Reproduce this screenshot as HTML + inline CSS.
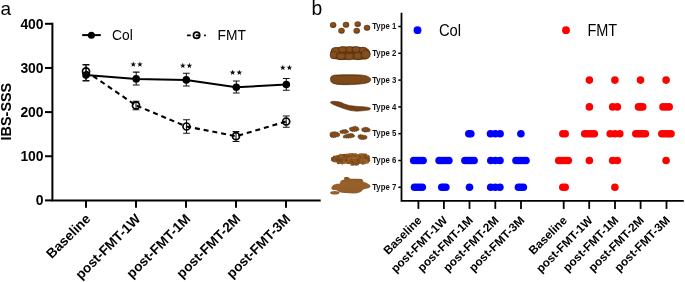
<!DOCTYPE html>
<html><head><meta charset="utf-8"><style>
html,body{margin:0;padding:0;background:#fff;width:685px;height:282px;overflow:hidden}
svg{display:block;will-change:transform;filter:blur(0.3px)}
text{font-family:"Liberation Sans", sans-serif}
</style></head><body>
<svg width="685" height="282" viewBox="0 0 685 282" font-family='"Liberation Sans", sans-serif' fill="#000">
<defs>
<radialGradient id="g1" cx="0.45" cy="0.4" r="0.6"><stop offset="0" stop-color="#8c5420"/><stop offset="0.65" stop-color="#7c4719"/><stop offset="1" stop-color="#52300f"/></radialGradient>
<radialGradient id="g2" cx="0.5" cy="0.45" r="0.6"><stop offset="0" stop-color="#8a5220"/><stop offset="0.7" stop-color="#7d4a1b"/><stop offset="1" stop-color="#5a3210"/></radialGradient>
<linearGradient id="g3" x1="0" y1="0" x2="0" y2="1"><stop offset="0" stop-color="#643810"/><stop offset="0.2" stop-color="#804a1b"/><stop offset="0.8" stop-color="#7e481a"/><stop offset="1" stop-color="#603510"/></linearGradient>
<linearGradient id="g7" x1="0" y1="0" x2="0" y2="1"><stop offset="0" stop-color="#86541f"/><stop offset="0.3" stop-color="#98612b"/><stop offset="1" stop-color="#925e2a"/></linearGradient>
</defs>
<ellipse cx="333.1" cy="25" rx="3.25" ry="2.95" fill="url(#g1)"/>
<ellipse cx="341.5" cy="30.8" rx="3.25" ry="2.95" fill="url(#g1)"/>
<ellipse cx="346" cy="24.8" rx="3.25" ry="2.95" fill="url(#g1)"/>
<ellipse cx="357.7" cy="24.1" rx="3.25" ry="2.95" fill="url(#g1)"/>
<ellipse cx="356.7" cy="30.8" rx="3.25" ry="2.95" fill="url(#g1)"/>
<ellipse cx="367" cy="27.7" rx="3.25" ry="2.95" fill="url(#g1)"/>
<path d="M330.5 53.5 C330 49 334 47.2 338 47.3 C341 46.3 345 46.3 349 46.8 C353 46.2 358 46.3 362 47.2 C366 47.2 369.5 49 370.3 52.5 C370.8 56 369 58.8 365 59.4 C360 60.2 355 59.8 351 59.6 C346 60.3 341 60.2 337 59.5 C333 59.2 330.8 57 330.5 53.5 Z" fill="#6a3b12"/>
<ellipse cx="335.5" cy="50.8" rx="4.3" ry="3.3" fill="url(#g2)" stroke="#4a280b" stroke-width="0.45"/>
<ellipse cx="342.6" cy="49.6" rx="4.1" ry="3.0" fill="url(#g2)" stroke="#4a280b" stroke-width="0.45"/>
<ellipse cx="349.6" cy="49.4" rx="3.9" ry="2.9" fill="url(#g2)" stroke="#4a280b" stroke-width="0.45"/>
<ellipse cx="356.2" cy="49.6" rx="4.1" ry="3.0" fill="url(#g2)" stroke="#4a280b" stroke-width="0.45"/>
<ellipse cx="363.0" cy="50.2" rx="3.9" ry="3.1" fill="url(#g2)" stroke="#4a280b" stroke-width="0.45"/>
<ellipse cx="333.8" cy="55.0" rx="3.8" ry="3.9" fill="url(#g2)" stroke="#4a280b" stroke-width="0.45"/>
<ellipse cx="341.0" cy="56.3" rx="4.6" ry="3.4" fill="url(#g2)" stroke="#4a280b" stroke-width="0.45"/>
<ellipse cx="349.4" cy="56.5" rx="4.6" ry="3.3" fill="url(#g2)" stroke="#4a280b" stroke-width="0.45"/>
<ellipse cx="357.8" cy="56.0" rx="4.3" ry="3.7" fill="url(#g2)" stroke="#4a280b" stroke-width="0.45"/>
<ellipse cx="365.6" cy="54.6" rx="4.6" ry="4.5" fill="url(#g2)" stroke="#4a280b" stroke-width="0.45"/>
<path d="M330.6 77.6 C331 75.8 333 75.2 336 75 C343 74.6 352 74.6 360 74.9 C366 75.2 370 76.8 370.8 79.2 C371 81.5 368.5 82.8 364 83.6 C356 84.8 346 85 338 84.4 C334 84 331.5 83 330.8 81.2 C330.3 80 330.3 78.8 330.6 77.6 Z" fill="url(#g3)" stroke="#4a280b" stroke-width="0.6"/>
<path d="M330.2 102.2 C331.5 101.3 334 101.2 337 101.5 C340 101.8 342 102.7 344 103.8 C347 105 350 105.7 353.7 106 C357 106.4 360 106.6 363.3 106.7 C366 106.9 368.5 107.3 370 108 C371 109 370.2 109.8 368.5 110.1 C364 110.7 360 111.2 356.9 111.2 C353.5 111.1 351 110.7 349.2 110.2 C346 109.4 343 108.5 340.8 107.6 C338 106.6 336 105.8 334.4 105.1 C332.5 104.2 330.8 103.3 330.2 102.2 Z" fill="#74401a" stroke="#522d0c" stroke-width="0.5"/>
<polygon points="330.2,133 331.9,132 335.1,131.7 337.6,132.3 339.6,133.6 339.6,135.9 337.6,136.8 334.4,137.5 331.2,137.5 329.9,135.6" fill="#804a1c" stroke="#55300e" stroke-width="0.7" stroke-linejoin="miter" stroke-dasharray="1.2 0.6"/>
<polygon points="339.9,131.1 342.1,130.1 344.7,129.5 346.6,129.8 348.6,131.4 347.9,133 345.3,133.6 342.1,133.6 340.2,133" fill="#804a1c" stroke="#55300e" stroke-width="0.7" stroke-linejoin="miter" stroke-dasharray="1.2 0.6"/>
<polygon points="343.1,136.2 344.7,134.9 347.3,134.3 349.8,133.6 352.4,133.6 354.3,134.9 354.7,136.5 352.4,137.5 349.2,138.1 346,138.1 343.4,137.8" fill="#804a1c" stroke="#55300e" stroke-width="0.7" stroke-linejoin="miter" stroke-dasharray="1.2 0.6"/>
<polygon points="349.5,127.9 352.4,126.9 355.6,126.2 357.9,127.2 359.2,129.1 358.2,130.7 355,131.4 351.8,131.4 349.8,130.4" fill="#804a1c" stroke="#55300e" stroke-width="0.7" stroke-linejoin="miter" stroke-dasharray="1.2 0.6"/>
<polygon points="358.2,135.2 360.8,134.6 363.3,135.2 365.9,135.6 367.2,136.8 366.5,138.8 364,139.4 360.8,139.4 358.8,138.5 357.9,136.8" fill="#804a1c" stroke="#55300e" stroke-width="0.7" stroke-linejoin="miter" stroke-dasharray="1.2 0.6"/>
<polygon points="361.7,128.8 364,127.5 366.5,127.2 369.1,128.2 370.4,129.8 369.7,131.4 367.2,132 364,132 362,131.1" fill="#804a1c" stroke="#55300e" stroke-width="0.7" stroke-linejoin="miter" stroke-dasharray="1.2 0.6"/>
<polygon points="331.64,157.96 336.20,156.68 340.38,155.64 345.13,154.60 349.87,154.60 354.71,155.40 359.45,155.16 364.84,155.40 367.82,156.92 368.75,158.44 368.38,161.56 365.40,162.36 359.45,162.84 354.71,163.64 350.52,163.40 344.48,162.60 338.52,162.36 333.22,161.32 331.64,160.04" fill="#8d5723" stroke="#8d5723" stroke-width="1.2" stroke-linejoin="round"/>
<circle cx="340.3" cy="155.1" r="1.32" fill="#9c652c"/>
<circle cx="342.4" cy="155.3" r="1.26" fill="#774519"/>
<circle cx="344.6" cy="155.2" r="1.45" fill="#804c1d"/>
<circle cx="346.7" cy="155.0" r="1.56" fill="#8a5422"/>
<circle cx="349.1" cy="154.9" r="1.73" fill="#8a5422"/>
<circle cx="351.0" cy="154.7" r="1.66" fill="#9c652c"/>
<circle cx="352.8" cy="154.8" r="1.73" fill="#8a5422"/>
<circle cx="355.4" cy="154.8" r="1.69" fill="#9c652c"/>
<circle cx="356.8" cy="155.1" r="1.30" fill="#945c26"/>
<circle cx="359.2" cy="155.2" r="1.60" fill="#945c26"/>
<circle cx="361.3" cy="154.9" r="1.91" fill="#9c652c"/>
<circle cx="363.8" cy="154.7" r="1.53" fill="#804c1d"/>
<circle cx="365.7" cy="154.8" r="1.38" fill="#8a5422"/>
<circle cx="334.5" cy="157.2" r="1.75" fill="#774519"/>
<circle cx="336.9" cy="156.9" r="1.79" fill="#9c652c"/>
<circle cx="338.9" cy="157.0" r="1.90" fill="#774519"/>
<circle cx="340.6" cy="156.7" r="1.28" fill="#9c652c"/>
<circle cx="342.5" cy="156.5" r="1.37" fill="#945c26"/>
<circle cx="344.6" cy="156.9" r="1.28" fill="#774519"/>
<circle cx="346.7" cy="156.5" r="1.49" fill="#8a5422"/>
<circle cx="348.8" cy="156.6" r="1.50" fill="#804c1d"/>
<circle cx="351.6" cy="156.9" r="1.58" fill="#8a5422"/>
<circle cx="353.6" cy="157.2" r="1.57" fill="#9c652c"/>
<circle cx="355.3" cy="156.5" r="1.80" fill="#804c1d"/>
<circle cx="357.5" cy="157.0" r="1.61" fill="#945c26"/>
<circle cx="360.0" cy="156.8" r="1.32" fill="#774519"/>
<circle cx="362.0" cy="157.0" r="1.44" fill="#8a5422"/>
<circle cx="364.0" cy="156.6" r="1.49" fill="#945c26"/>
<circle cx="365.8" cy="156.6" r="1.63" fill="#774519"/>
<circle cx="367.9" cy="156.6" r="1.85" fill="#945c26"/>
<circle cx="332.4" cy="158.3" r="1.22" fill="#804c1d"/>
<circle cx="334.6" cy="158.5" r="1.68" fill="#804c1d"/>
<circle cx="336.6" cy="159.0" r="1.99" fill="#804c1d"/>
<circle cx="338.5" cy="158.4" r="1.58" fill="#804c1d"/>
<circle cx="340.7" cy="158.8" r="1.92" fill="#8a5422"/>
<circle cx="343.0" cy="158.8" r="1.84" fill="#8a5422"/>
<circle cx="345.4" cy="158.4" r="1.51" fill="#945c26"/>
<circle cx="347.2" cy="158.4" r="1.83" fill="#804c1d"/>
<circle cx="349.0" cy="159.1" r="1.78" fill="#9c652c"/>
<circle cx="351.3" cy="159.1" r="1.78" fill="#945c26"/>
<circle cx="353.9" cy="158.3" r="1.67" fill="#9c652c"/>
<circle cx="355.8" cy="158.4" r="1.86" fill="#9c652c"/>
<circle cx="357.8" cy="158.6" r="1.64" fill="#945c26"/>
<circle cx="359.4" cy="158.9" r="1.78" fill="#8a5422"/>
<circle cx="361.9" cy="159.0" r="1.55" fill="#945c26"/>
<circle cx="364.2" cy="158.5" r="1.40" fill="#804c1d"/>
<circle cx="366.1" cy="158.9" r="1.46" fill="#774519"/>
<circle cx="368.1" cy="158.4" r="1.93" fill="#804c1d"/>
<circle cx="332.9" cy="160.3" r="1.32" fill="#774519"/>
<circle cx="334.3" cy="160.6" r="1.35" fill="#8a5422"/>
<circle cx="337.0" cy="160.3" r="1.31" fill="#774519"/>
<circle cx="339.1" cy="160.6" r="1.46" fill="#774519"/>
<circle cx="341.0" cy="160.6" r="1.82" fill="#774519"/>
<circle cx="342.7" cy="160.4" r="1.23" fill="#8a5422"/>
<circle cx="345.2" cy="160.6" r="1.81" fill="#8a5422"/>
<circle cx="347.2" cy="160.7" r="1.60" fill="#774519"/>
<circle cx="349.1" cy="160.4" r="1.61" fill="#9c652c"/>
<circle cx="351.5" cy="160.4" r="1.62" fill="#804c1d"/>
<circle cx="353.9" cy="160.9" r="1.36" fill="#9c652c"/>
<circle cx="355.4" cy="160.3" r="1.55" fill="#8a5422"/>
<circle cx="357.9" cy="160.5" r="1.37" fill="#804c1d"/>
<circle cx="360.1" cy="160.9" r="1.32" fill="#804c1d"/>
<circle cx="361.7" cy="160.9" r="1.97" fill="#945c26"/>
<circle cx="364.3" cy="160.3" r="1.91" fill="#945c26"/>
<circle cx="366.6" cy="160.9" r="1.33" fill="#9c652c"/>
<circle cx="368.7" cy="160.5" r="1.54" fill="#804c1d"/>
<circle cx="338.2" cy="162.9" r="1.28" fill="#804c1d"/>
<circle cx="339.8" cy="162.8" r="1.35" fill="#945c26"/>
<circle cx="342.4" cy="162.8" r="1.74" fill="#804c1d"/>
<circle cx="344.1" cy="162.5" r="1.61" fill="#9c652c"/>
<circle cx="346.5" cy="162.2" r="1.25" fill="#945c26"/>
<circle cx="348.4" cy="162.2" r="1.95" fill="#8a5422"/>
<circle cx="350.8" cy="162.2" r="1.88" fill="#8a5422"/>
<circle cx="352.4" cy="162.2" r="1.21" fill="#774519"/>
<circle cx="354.7" cy="162.8" r="1.70" fill="#8a5422"/>
<circle cx="356.8" cy="162.3" r="1.29" fill="#945c26"/>
<circle cx="358.7" cy="162.2" r="1.95" fill="#804c1d"/>
<circle cx="361.0" cy="162.3" r="1.56" fill="#945c26"/>
<circle cx="362.9" cy="162.7" r="2.00" fill="#8a5422"/>
<circle cx="364.8" cy="162.7" r="1.64" fill="#945c26"/>
<circle cx="367.3" cy="162.3" r="1.56" fill="#9c652c"/>
<circle cx="351.6" cy="164.6" r="1.24" fill="#945c26"/>
<circle cx="353.4" cy="164.4" r="1.41" fill="#804c1d"/>
<circle cx="356.1" cy="164.4" r="1.40" fill="#804c1d"/>
<circle cx="357.6" cy="164.1" r="1.47" fill="#8a5422"/>
<path d="M331.4 187.6 C332.2 186 333 185.2 334 184.6 C336 183.8 338 183.6 339.9 183.4 C340.2 182.2 340.5 181.4 340.8 180.8 C342 180 343 179.7 344.2 179.5 C344 178.5 344 177.8 344.2 177.4 C345.5 177 347 177 348.4 177.2 C349.2 177.6 349.8 178.2 350.1 178.7 C354 178.6 358 178.7 362 179.1 C362.8 180 363.2 181.2 363.7 182.1 C365.5 182.6 367 183 368 183.8 C369.3 184.5 370.2 185.2 370.6 185.9 C370.3 186.9 369.7 187.6 368.9 188 C367 188.7 365.2 189 363.7 189.3 C362.6 190.4 361.5 191.5 360.3 192.3 C358 193 355.8 193.5 353.5 193.6 C350.5 193.6 347.8 193.4 345 193.1 C343 192.9 341.3 192.6 339.9 192.3 C338.5 191.6 337.5 190.8 336.5 190.2 C335 190 333.5 189.9 332.3 189.7 C331.5 189.2 331.2 188.4 331.4 187.6 Z" fill="url(#g7)"/>
<ellipse cx="334.8" cy="192.7" rx="4.7" ry="1.75" fill="#925e2a"/>
<text x="0.5" y="14.7" font-size="19" fill="#000">a</text>
<path d="M52.4 22.8 V201.4 M51.4 200.4 H320.7" stroke="#000" stroke-width="2" fill="none"/>
<path d="M45 23.80 H52.4" stroke="#000" stroke-width="2"/>
<text transform="translate(43.6,28.80) scale(0.96,1)" font-size="14.5" font-weight="bold" text-anchor="end">400</text>
<path d="M45 67.95 H52.4" stroke="#000" stroke-width="2"/>
<text transform="translate(43.6,72.95) scale(0.96,1)" font-size="14.5" font-weight="bold" text-anchor="end">300</text>
<path d="M45 112.10 H52.4" stroke="#000" stroke-width="2"/>
<text transform="translate(43.6,117.10) scale(0.96,1)" font-size="14.5" font-weight="bold" text-anchor="end">200</text>
<path d="M45 156.25 H52.4" stroke="#000" stroke-width="2"/>
<text transform="translate(43.6,161.25) scale(0.96,1)" font-size="14.5" font-weight="bold" text-anchor="end">100</text>
<path d="M45 200.40 H52.4" stroke="#000" stroke-width="2"/>
<text transform="translate(43.6,205.40) scale(0.96,1)" font-size="14.5" font-weight="bold" text-anchor="end">0</text>
<path d="M86 200 V207.7" stroke="#000" stroke-width="2"/>
<path d="M136 200 V207.7" stroke="#000" stroke-width="2"/>
<path d="M186 200 V207.7" stroke="#000" stroke-width="2"/>
<path d="M236 200 V207.7" stroke="#000" stroke-width="2"/>
<path d="M286 200 V207.7" stroke="#000" stroke-width="2"/>
<text transform="translate(84.4,212.8) rotate(-45)" font-size="13.6" font-weight="bold" text-anchor="end" dy="0.72em">Baseline</text>
<text transform="translate(134.4,212.8) rotate(-45)" font-size="13.6" font-weight="bold" text-anchor="end" dy="0.72em">post-FMT-1W</text>
<text transform="translate(184.4,212.8) rotate(-45)" font-size="13.6" font-weight="bold" text-anchor="end" dy="0.72em">post-FMT-1M</text>
<text transform="translate(234.4,212.8) rotate(-45)" font-size="13.6" font-weight="bold" text-anchor="end" dy="0.72em">post-FMT-2M</text>
<text transform="translate(284.4,212.8) rotate(-45)" font-size="13.6" font-weight="bold" text-anchor="end" dy="0.72em">post-FMT-3M</text>
<text transform="translate(11.4,111.6) rotate(-90)" font-size="14.4" font-weight="bold" text-anchor="middle">IBS-SSS</text>
<path d="M82.2 35.1 H100.8" stroke="#000" stroke-width="2"/>
<circle cx="91.4" cy="35.2" r="3.5" fill="#000"/>
<text x="112" y="39.7" font-size="13.8">Col</text>
<path d="M187 35.3 H190.7 M204.1 35.3 H205.8 M195.8 35.3 H199.5" stroke="#000" stroke-width="1.7"/>
<circle cx="196.6" cy="35.3" r="3.15" fill="none" stroke="#000" stroke-width="1.7"/>
<text x="217.5" y="39.8" font-size="13.8">FMT</text>
<line x1="86" y1="71.3" x2="136" y2="105.4" stroke="#000" stroke-width="2.1" stroke-dasharray="5.0 3.90" stroke-dashoffset="0.25"/>
<line x1="136" y1="105.4" x2="186.5" y2="126.5" stroke="#000" stroke-width="2.1" stroke-dasharray="5.0 3.90" stroke-dashoffset="8.14"/>
<line x1="186.5" y1="126.5" x2="236" y2="136.2" stroke="#000" stroke-width="2.1" stroke-dasharray="5.0 3.90" stroke-dashoffset="0.34"/>
<line x1="236" y1="136.2" x2="286.2" y2="121.5" stroke="#000" stroke-width="2.1" stroke-dasharray="5.0 3.90" stroke-dashoffset="6.56"/>
<polyline points="86,75.0 136.2,78.9 186.3,79.9 236.3,87.2 286.3,84.5" fill="none" stroke="#000" stroke-width="2.0"/>
<path d="M86 65.0 V81.0 M82.6 65.0 H89.4 M82.6 81.0 H89.4" stroke="#111" stroke-width="1.05" fill="none"/>
<path d="M136.2 72.1 V84.9 M132.79999999999998 72.1 H139.6 M132.79999999999998 84.9 H139.6" stroke="#111" stroke-width="1.05" fill="none"/>
<path d="M186.3 73.2 V86.0 M182.9 73.2 H189.70000000000002 M182.9 86.0 H189.70000000000002" stroke="#111" stroke-width="1.05" fill="none"/>
<path d="M236.3 81.0 V92.9 M232.9 81.0 H239.70000000000002 M232.9 92.9 H239.70000000000002" stroke="#111" stroke-width="1.05" fill="none"/>
<path d="M286.3 78.4 V90.2 M282.90000000000003 78.4 H289.7 M282.90000000000003 90.2 H289.7" stroke="#111" stroke-width="1.05" fill="none"/>
<path d="M86 64.5 V80.5 M82.6 64.5 H89.4 M82.6 80.5 H89.4" stroke="#111" stroke-width="1.05" fill="none"/>
<path d="M136 101.2 V109.7 M132.6 101.2 H139.4 M132.6 109.7 H139.4" stroke="#111" stroke-width="1.05" fill="none"/>
<path d="M186.5 119.8 V133.2 M183.1 119.8 H189.9 M183.1 133.2 H189.9" stroke="#111" stroke-width="1.05" fill="none"/>
<path d="M236 131.6 V141.5 M232.6 131.6 H239.4 M232.6 141.5 H239.4" stroke="#111" stroke-width="1.05" fill="none"/>
<path d="M286.2 116 V127.3 M282.8 116 H289.59999999999997 M282.8 127.3 H289.59999999999997" stroke="#111" stroke-width="1.05" fill="none"/>
<circle cx="86" cy="71.3" r="3.5" fill="none" stroke="#000" stroke-width="1.7"/>
<circle cx="136" cy="105.4" r="3.5" fill="none" stroke="#000" stroke-width="1.7"/>
<circle cx="186.5" cy="126.5" r="3.5" fill="none" stroke="#000" stroke-width="1.7"/>
<circle cx="236" cy="136.2" r="3.5" fill="none" stroke="#000" stroke-width="1.7"/>
<circle cx="286.2" cy="121.5" r="3.5" fill="none" stroke="#000" stroke-width="1.7"/>
<circle cx="86" cy="75.0" r="3.8" fill="#000"/>
<circle cx="136.2" cy="78.9" r="3.8" fill="#000"/>
<circle cx="186.3" cy="79.9" r="3.8" fill="#000"/>
<circle cx="236.3" cy="87.2" r="3.8" fill="#000"/>
<circle cx="286.3" cy="84.5" r="3.8" fill="#000"/>
<polygon points="133.30,61.45 134.03,63.39 136.11,63.49 134.49,64.79 135.03,66.79 133.30,65.65 131.57,66.79 132.11,64.79 130.49,63.49 132.57,63.39" fill="#111"/>
<polygon points="139.90,61.45 140.63,63.39 142.71,63.49 141.09,64.79 141.63,66.79 139.90,65.65 138.17,66.79 138.71,64.79 137.09,63.49 139.17,63.39" fill="#111"/>
<polygon points="182.80,62.75 183.53,64.69 185.61,64.79 183.99,66.09 184.53,68.09 182.80,66.95 181.07,68.09 181.61,66.09 179.99,64.79 182.07,64.69" fill="#111"/>
<polygon points="189.40,62.75 190.13,64.69 192.21,64.79 190.59,66.09 191.13,68.09 189.40,66.95 187.67,68.09 188.21,66.09 186.59,64.79 188.67,64.69" fill="#111"/>
<polygon points="232.60,69.65 233.33,71.59 235.41,71.69 233.79,72.99 234.33,74.99 232.60,73.85 230.87,74.99 231.41,72.99 229.79,71.69 231.87,71.59" fill="#111"/>
<polygon points="239.30,69.65 240.03,71.59 242.11,71.69 240.49,72.99 241.03,74.99 239.30,73.85 237.57,74.99 238.11,72.99 236.49,71.69 238.57,71.59" fill="#111"/>
<polygon points="282.80,64.75 283.53,66.69 285.61,66.79 283.99,68.09 284.53,70.09 282.80,68.95 281.07,70.09 281.61,68.09 279.99,66.79 282.07,66.69" fill="#111"/>
<polygon points="289.40,64.75 290.13,66.69 292.21,66.79 290.59,68.09 291.13,70.09 289.40,68.95 287.67,70.09 288.21,68.09 286.59,66.79 288.67,66.69" fill="#111"/>
<text x="311.4" y="14.9" font-size="19.3">b</text>
<path d="M401.5 12.7 V201.7 M400.6 200.85 H683.8" stroke="#000" stroke-width="1.8" fill="none"/>
<path d="M398.3 26.50 H401.5" stroke="#000" stroke-width="1.5"/>
<text transform="translate(396.2,29.10) scale(0.82,1)" font-size="9.5" font-weight="bold" text-anchor="end" fill="#111">Type 1</text>
<path d="M398.3 53.30 H401.5" stroke="#000" stroke-width="1.5"/>
<text transform="translate(396.2,55.90) scale(0.82,1)" font-size="9.5" font-weight="bold" text-anchor="end" fill="#111">Type 2</text>
<path d="M398.3 80.10 H401.5" stroke="#000" stroke-width="1.5"/>
<text transform="translate(396.2,82.70) scale(0.82,1)" font-size="9.5" font-weight="bold" text-anchor="end" fill="#111">Type 3</text>
<path d="M398.3 106.90 H401.5" stroke="#000" stroke-width="1.5"/>
<text transform="translate(396.2,109.50) scale(0.82,1)" font-size="9.5" font-weight="bold" text-anchor="end" fill="#111">Type 4</text>
<path d="M398.3 133.70 H401.5" stroke="#000" stroke-width="1.5"/>
<text transform="translate(396.2,136.30) scale(0.82,1)" font-size="9.5" font-weight="bold" text-anchor="end" fill="#111">Type 5</text>
<path d="M398.3 160.50 H401.5" stroke="#000" stroke-width="1.5"/>
<text transform="translate(396.2,163.10) scale(0.82,1)" font-size="9.5" font-weight="bold" text-anchor="end" fill="#111">Type 6</text>
<path d="M398.3 187.30 H401.5" stroke="#000" stroke-width="1.5"/>
<text transform="translate(396.2,189.90) scale(0.82,1)" font-size="9.5" font-weight="bold" text-anchor="end" fill="#111">Type 7</text>
<path d="M418.4 200.85 V208.9" stroke="#000" stroke-width="1.8"/>
<path d="M443.9 200.85 V208.9" stroke="#000" stroke-width="1.8"/>
<path d="M469.5 200.85 V208.9" stroke="#000" stroke-width="1.8"/>
<path d="M495.3 200.85 V208.9" stroke="#000" stroke-width="1.8"/>
<path d="M521 200.85 V208.9" stroke="#000" stroke-width="1.8"/>
<path d="M563.7 200.85 V208.9" stroke="#000" stroke-width="1.8"/>
<path d="M589.2 200.85 V208.9" stroke="#000" stroke-width="1.8"/>
<path d="M615 200.85 V208.9" stroke="#000" stroke-width="1.8"/>
<path d="M640.6 200.85 V208.9" stroke="#000" stroke-width="1.8"/>
<path d="M666.5 200.85 V208.9" stroke="#000" stroke-width="1.8"/>
<text transform="translate(416.5,215.0) rotate(-45)" font-size="11.8" font-weight="bold" text-anchor="end" dy="0.72em">Baseline</text>
<text transform="translate(442.0,215.0) rotate(-45)" font-size="11.8" font-weight="bold" text-anchor="end" dy="0.72em">post-FMT-1W</text>
<text transform="translate(467.6,215.0) rotate(-45)" font-size="11.8" font-weight="bold" text-anchor="end" dy="0.72em">post-FMT-1M</text>
<text transform="translate(493.40000000000003,215.0) rotate(-45)" font-size="11.8" font-weight="bold" text-anchor="end" dy="0.72em">post-FMT-2M</text>
<text transform="translate(519.1,215.0) rotate(-45)" font-size="11.8" font-weight="bold" text-anchor="end" dy="0.72em">post-FMT-3M</text>
<text transform="translate(561.8000000000001,215.0) rotate(-45)" font-size="11.8" font-weight="bold" text-anchor="end" dy="0.72em">Baseline</text>
<text transform="translate(587.3000000000001,215.0) rotate(-45)" font-size="11.8" font-weight="bold" text-anchor="end" dy="0.72em">post-FMT-1W</text>
<text transform="translate(613.1,215.0) rotate(-45)" font-size="11.8" font-weight="bold" text-anchor="end" dy="0.72em">post-FMT-1M</text>
<text transform="translate(638.7,215.0) rotate(-45)" font-size="11.8" font-weight="bold" text-anchor="end" dy="0.72em">post-FMT-2M</text>
<text transform="translate(664.6,215.0) rotate(-45)" font-size="11.8" font-weight="bold" text-anchor="end" dy="0.72em">post-FMT-3M</text>
<circle cx="417.5" cy="30.2" r="3.9" fill="#0000ff"/>
<text transform="translate(438.9,35.6) scale(0.95,1)" font-size="15.6">Col</text>
<circle cx="566" cy="30.2" r="3.9" fill="#ff0000"/>
<text transform="translate(587.4,35.6) scale(0.93,1)" font-size="15.6">FMT</text>
<circle cx="468.80" cy="133.70" r="3.8" fill="#0000ff"/>
<circle cx="470.80" cy="133.70" r="3.8" fill="#0000ff"/>
<circle cx="490.50" cy="133.70" r="3.8" fill="#0000ff"/>
<circle cx="495.30" cy="133.70" r="3.8" fill="#0000ff"/>
<circle cx="500.10" cy="133.70" r="3.8" fill="#0000ff"/>
<circle cx="520.90" cy="133.70" r="3.8" fill="#0000ff"/>
<circle cx="413.70" cy="160.50" r="3.8" fill="#0000ff"/>
<circle cx="416.05" cy="160.50" r="3.8" fill="#0000ff"/>
<circle cx="418.40" cy="160.50" r="3.8" fill="#0000ff"/>
<circle cx="420.75" cy="160.50" r="3.8" fill="#0000ff"/>
<circle cx="423.10" cy="160.50" r="3.8" fill="#0000ff"/>
<circle cx="439.10" cy="160.50" r="3.8" fill="#0000ff"/>
<circle cx="441.55" cy="160.50" r="3.8" fill="#0000ff"/>
<circle cx="444.00" cy="160.50" r="3.8" fill="#0000ff"/>
<circle cx="446.45" cy="160.50" r="3.8" fill="#0000ff"/>
<circle cx="448.90" cy="160.50" r="3.8" fill="#0000ff"/>
<circle cx="464.90" cy="160.50" r="3.8" fill="#0000ff"/>
<circle cx="467.20" cy="160.50" r="3.8" fill="#0000ff"/>
<circle cx="469.50" cy="160.50" r="3.8" fill="#0000ff"/>
<circle cx="471.80" cy="160.50" r="3.8" fill="#0000ff"/>
<circle cx="474.10" cy="160.50" r="3.8" fill="#0000ff"/>
<circle cx="490.80" cy="160.50" r="3.8" fill="#0000ff"/>
<circle cx="495.40" cy="160.50" r="3.8" fill="#0000ff"/>
<circle cx="500.00" cy="160.50" r="3.8" fill="#0000ff"/>
<circle cx="516.00" cy="160.50" r="3.8" fill="#0000ff"/>
<circle cx="518.50" cy="160.50" r="3.8" fill="#0000ff"/>
<circle cx="521.00" cy="160.50" r="3.8" fill="#0000ff"/>
<circle cx="523.50" cy="160.50" r="3.8" fill="#0000ff"/>
<circle cx="526.00" cy="160.50" r="3.8" fill="#0000ff"/>
<circle cx="414.50" cy="187.30" r="3.8" fill="#0000ff"/>
<circle cx="417.10" cy="187.30" r="3.8" fill="#0000ff"/>
<circle cx="419.70" cy="187.30" r="3.8" fill="#0000ff"/>
<circle cx="422.30" cy="187.30" r="3.8" fill="#0000ff"/>
<circle cx="441.75" cy="187.30" r="3.8" fill="#0000ff"/>
<circle cx="443.80" cy="187.30" r="3.8" fill="#0000ff"/>
<circle cx="445.85" cy="187.30" r="3.8" fill="#0000ff"/>
<circle cx="469.50" cy="187.30" r="3.8" fill="#0000ff"/>
<circle cx="490.70" cy="187.30" r="3.8" fill="#0000ff"/>
<circle cx="495.30" cy="187.30" r="3.8" fill="#0000ff"/>
<circle cx="499.90" cy="187.30" r="3.8" fill="#0000ff"/>
<circle cx="518.45" cy="187.30" r="3.8" fill="#0000ff"/>
<circle cx="520.90" cy="187.30" r="3.8" fill="#0000ff"/>
<circle cx="523.35" cy="187.30" r="3.8" fill="#0000ff"/>
<circle cx="589.40" cy="80.10" r="3.8" fill="#ff0000"/>
<circle cx="614.90" cy="80.10" r="3.8" fill="#ff0000"/>
<circle cx="640.50" cy="80.10" r="3.8" fill="#ff0000"/>
<circle cx="666.10" cy="80.10" r="3.8" fill="#ff0000"/>
<circle cx="589.40" cy="106.90" r="3.8" fill="#ff0000"/>
<circle cx="612.65" cy="106.90" r="3.8" fill="#ff0000"/>
<circle cx="617.35" cy="106.90" r="3.8" fill="#ff0000"/>
<circle cx="638.50" cy="106.90" r="3.8" fill="#ff0000"/>
<circle cx="640.60" cy="106.90" r="3.8" fill="#ff0000"/>
<circle cx="642.70" cy="106.90" r="3.8" fill="#ff0000"/>
<circle cx="663.00" cy="106.90" r="3.8" fill="#ff0000"/>
<circle cx="666.10" cy="106.90" r="3.8" fill="#ff0000"/>
<circle cx="669.20" cy="106.90" r="3.8" fill="#ff0000"/>
<circle cx="562.80" cy="133.70" r="3.8" fill="#ff0000"/>
<circle cx="565.20" cy="133.70" r="3.8" fill="#ff0000"/>
<circle cx="584.70" cy="133.70" r="3.8" fill="#ff0000"/>
<circle cx="587.10" cy="133.70" r="3.8" fill="#ff0000"/>
<circle cx="589.50" cy="133.70" r="3.8" fill="#ff0000"/>
<circle cx="591.90" cy="133.70" r="3.8" fill="#ff0000"/>
<circle cx="594.30" cy="133.70" r="3.8" fill="#ff0000"/>
<circle cx="610.20" cy="133.70" r="3.8" fill="#ff0000"/>
<circle cx="615.00" cy="133.70" r="3.8" fill="#ff0000"/>
<circle cx="619.80" cy="133.70" r="3.8" fill="#ff0000"/>
<circle cx="635.80" cy="133.70" r="3.8" fill="#ff0000"/>
<circle cx="638.20" cy="133.70" r="3.8" fill="#ff0000"/>
<circle cx="640.60" cy="133.70" r="3.8" fill="#ff0000"/>
<circle cx="643.00" cy="133.70" r="3.8" fill="#ff0000"/>
<circle cx="645.40" cy="133.70" r="3.8" fill="#ff0000"/>
<circle cx="661.80" cy="133.70" r="3.8" fill="#ff0000"/>
<circle cx="664.10" cy="133.70" r="3.8" fill="#ff0000"/>
<circle cx="666.40" cy="133.70" r="3.8" fill="#ff0000"/>
<circle cx="668.70" cy="133.70" r="3.8" fill="#ff0000"/>
<circle cx="671.00" cy="133.70" r="3.8" fill="#ff0000"/>
<circle cx="558.70" cy="160.50" r="3.8" fill="#ff0000"/>
<circle cx="561.10" cy="160.50" r="3.8" fill="#ff0000"/>
<circle cx="563.50" cy="160.50" r="3.8" fill="#ff0000"/>
<circle cx="565.90" cy="160.50" r="3.8" fill="#ff0000"/>
<circle cx="568.30" cy="160.50" r="3.8" fill="#ff0000"/>
<circle cx="589.40" cy="160.50" r="3.8" fill="#ff0000"/>
<circle cx="612.65" cy="160.50" r="3.8" fill="#ff0000"/>
<circle cx="617.35" cy="160.50" r="3.8" fill="#ff0000"/>
<circle cx="666.10" cy="160.50" r="3.8" fill="#ff0000"/>
<circle cx="562.80" cy="187.30" r="3.8" fill="#ff0000"/>
<circle cx="565.20" cy="187.30" r="3.8" fill="#ff0000"/>
<circle cx="614.90" cy="187.30" r="3.8" fill="#ff0000"/>
</svg>
</body></html>
